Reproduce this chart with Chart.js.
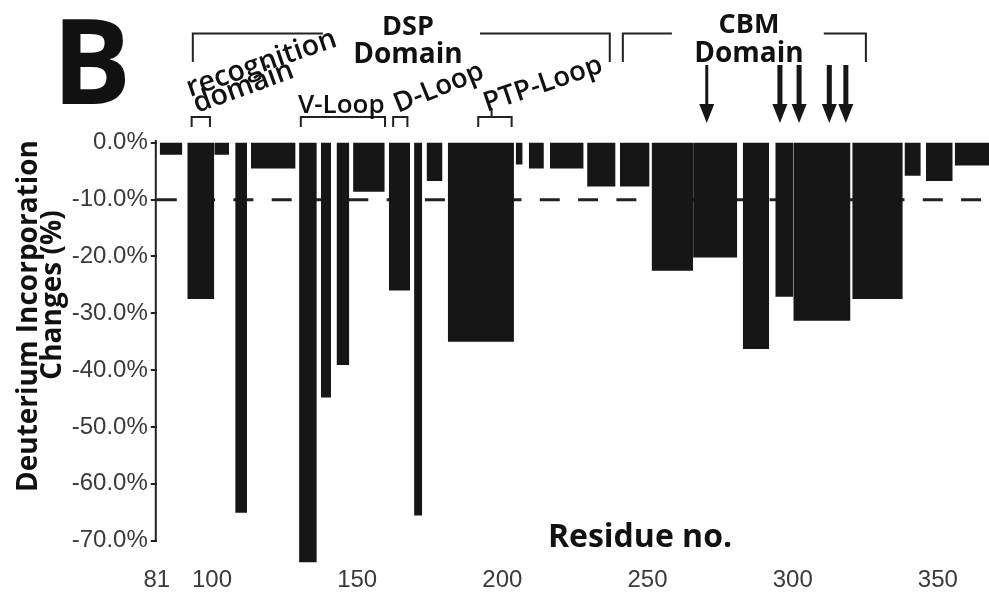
<!DOCTYPE html>
<html>
<head>
<meta charset="utf-8">
<script src="https://cdn.jsdelivr.net/npm/chart.js@4.4.1/dist/chart.umd.min.js"></script>
<style>
  html, body { margin: 0; padding: 0; background: #ffffff; }
  #c { display: block; }
</style>
</head>
<body>
<canvas id="c" width="989" height="594"></canvas>
<script>
// ---- data (residue ranges of peptides and their deuterium incorporation change, %) ----
const residueStart   = [82,   91.5,  100.8, 108,   113.4, 130,   137.5, 142.9, 148.6, 160.9, 169.6, 173.9, 181.2, 204.6, 209.1, 216.4, 229.2, 240.5, 251.4, 265.7, 282.8, 294.0, 300.2, 320.5, 338.5, 345.9, 355.8];
const residueEnd     = [89.8, 100.8, 105.9, 112.1, 128.8, 136.1, 141.0, 147.3, 159.5, 168.2, 172.4, 179.4, 204.0, 207.0, 214.3, 228.0, 239.0, 250.7, 265.7, 280.9, 291.9, 300.2, 319.9, 337.9, 344.1, 355.1, 368];
const deuteriumChange= [-2.1, -27.5, -2.1,  -65.1, -4.5,  -73.8, -44.8, -39.1, -8.6,  -26.0, -65.6, -6.7,  -35.0, -3.8,  -4.5,  -4.5,  -7.7,  -7.7,  -22.5, -20.2, -36.3, -27.1, -31.3, -27.5, -5.8,  -6.7,  -4.0];
const thresholdLevel = -10;
const yTickValues = [0, -10, -20, -30, -40, -50, -60, -70];
const xTickValues = [81, 100, 150, 200, 250, 300, 350];

// annotation anchors (residue numbers)
const domainBrackets = [
  { name: 'DSP', left: [93.4, 138.2], right: [192.3, 237.0] },
  { name: 'CBM', left: [241.5, 258.4], right: [310.7, 325.2] }
];
const loopBrackets = [
  { name: 'recognition', from: 93.0, to: 99.3 },
  { name: 'V-Loop', from: 130.6, to: 159.6 },
  { name: 'D-Loop', from: 162.4, to: 167.3 },
  { name: 'PTP-Loop', from: 191.7, to: 203.2, stem: 196.3 }
];
const arrowResidues = [270.4, 295.6, 302.2, 312.6, 318.3];

const INK = '#161616';

const barDatasets = residueStart.map((s, i) => ({
  type: 'line',
  data: [
    { x: s, y: 0 },
    { x: s, y: deuteriumChange[i] },
    { x: residueEnd[i], y: deuteriumChange[i] },
    { x: residueEnd[i], y: 0 }
  ],
  fill: 'origin',
  backgroundColor: INK,
  borderWidth: 0,
  borderColor: 'rgba(0,0,0,0)',
  pointRadius: 0,
  tension: 0,
  order: 1
}));

const thresholdDataset = {
  type: 'line',
  data: [{ x: 81, y: thresholdLevel }, { x: 368, y: thresholdLevel }],
  borderColor: '#222',
  borderWidth: 3,
  borderDash: [20, 18.3],
  pointRadius: 0,
  fill: false,
  order: 2
};

const annotations = {
  id: 'annotations',
  afterDraw(chart) {
    const ctx = chart.ctx;
    const xs = chart.scales.x;
    const ys = chart.scales.y;
    const px = r => xs.getPixelForValue(r);
    ctx.save();

    // y axis line (from top to -70%)
    ctx.strokeStyle = '#222';
    ctx.lineWidth = 2;
    ctx.beginPath();
    ctx.moveTo(chart.chartArea.left - 1, ys.getPixelForValue(0.5));
    ctx.lineTo(chart.chartArea.left - 1, ys.getPixelForValue(-70));
    ctx.stroke();

    ctx.fillStyle = '#111';
    ctx.textBaseline = 'alphabetic';

    // Panel letter
    ctx.font = 'bold 118px "Open Sans", "Liberation Sans", sans-serif';
    ctx.textAlign = 'left';
    ctx.fillText('B', 52, 104);

    // Y axis title (two lines, rotated)
    ctx.font = 'bold 28px "Open Sans", "Liberation Sans", sans-serif';
    ctx.textAlign = 'center';
    ctx.save(); ctx.translate(37, 316); ctx.rotate(-Math.PI / 2);
    ctx.fillText('Deuterium Incorporation', 0, 0); ctx.restore();
    ctx.save(); ctx.translate(61, 295); ctx.rotate(-Math.PI / 2);
    ctx.fillText('Changes (%)', 0, 0); ctx.restore();

    // X axis title
    ctx.font = 'bold 32px "Open Sans", "Liberation Sans", sans-serif';
    ctx.fillText('Residue no.', 640, 547);

    // Domain labels
    ctx.font = 'bold 27px "Open Sans", "Liberation Sans", sans-serif';
    ctx.fillText('DSP', 408, 35);
    ctx.fillText('CBM', 749, 33);
    ctx.font = 'bold 28px "Open Sans", "Liberation Sans", sans-serif';
    ctx.fillText('Domain', 408, 63);
    ctx.fillText('Domain', 749, 62);

    // Domain brackets
    ctx.strokeStyle = '#222';
    ctx.lineWidth = 2;
    const bTop = 33.5, bBot = 62;
    domainBrackets.forEach(b => {
      ctx.beginPath();
      ctx.moveTo(px(b.left[0]), bBot);
      ctx.lineTo(px(b.left[0]), bTop);
      ctx.lineTo(px(b.left[1]), bTop);
      ctx.moveTo(px(b.right[0]), bTop);
      ctx.lineTo(px(b.right[1]), bTop);
      ctx.lineTo(px(b.right[1]), bBot);
      ctx.stroke();
    });

    // Loop brackets
    const lTop = 117, lBot = 127;
    loopBrackets.forEach(b => {
      ctx.beginPath();
      ctx.moveTo(px(b.from), lBot);
      ctx.lineTo(px(b.from), lTop);
      ctx.lineTo(px(b.to), lTop);
      ctx.lineTo(px(b.to), lBot);
      if (b.stem) {
        ctx.moveTo(px(b.stem), lTop);
        ctx.lineTo(px(b.stem), 108);
      }
      ctx.stroke();
    });

    // Loop labels
    ctx.textAlign = 'left';
    const rot = (txt, x, y, deg) => {
      ctx.save(); ctx.translate(x, y); ctx.rotate(deg * Math.PI / 180);
      ctx.fillText(txt, 0, 0); ctx.restore();
    };
    ctx.font = '600 28.5px "Open Sans", "Liberation Sans", sans-serif';
    rot('recognition', 190, 97, -19);
    rot('domain', 197, 113, -20);
    ctx.font = '600 26px "Open Sans", "Liberation Sans", sans-serif';
    ctx.fillText('V-Loop', 298, 113);
    ctx.font = '600 27.5px "Open Sans", "Liberation Sans", sans-serif';
    rot('D-Loop', 398, 113, -22);
    rot('PTP-Loop', 487, 112, -19);

    // Arrows
    arrowResidues.forEach((r, i) => {
      const x = px(r);
      const shaft = i === 0 ? 3 : 5;
      ctx.fillStyle = '#161616';
      ctx.fillRect(x - shaft / 2, 65, shaft, 42);
      ctx.beginPath();
      ctx.moveTo(x - 7.5, 104);
      ctx.lineTo(x + 7.5, 104);
      ctx.lineTo(x, 123);
      ctx.closePath();
      ctx.fill();
    });

    ctx.restore();
  }
};

new Chart(document.getElementById('c'), {
  type: 'line',
  data: { datasets: [...barDatasets, thresholdDataset] },
  options: {
    responsive: false,
    animation: false,
    devicePixelRatio: 1,
    layout: { padding: { top: 140, left: 0, right: 0, bottom: 0 } },
    plugins: { legend: { display: false }, tooltip: { enabled: false } },
    elements: { line: { tension: 0 } },
    scales: {
      x: {
        type: 'linear',
        min: 81,
        max: 367.6,
        afterFit(scale) { scale.height = 30.7; },
        afterBuildTicks(scale) { scale.ticks = xTickValues.map(v => ({ value: v })); },
        grid: { display: false, drawTicks: false },
        border: { display: false },
        ticks: {
          autoSkip: false,
          maxRotation: 0,
          padding: 3,
          color: '#3a3a3a',
          font: { family: '"Liberation Sans", Arial, sans-serif', size: 24 },
          callback: v => String(v)
        }
      },
      y: {
        type: 'linear',
        min: -74,
        max: 0.5,
        afterFit(scale) { scale.width = 156.8; },
        afterBuildTicks(scale) { scale.ticks = yTickValues.map(v => ({ value: v })); },
        grid: { drawOnChartArea: false, drawTicks: true, tickLength: 6, color: '#222', lineWidth: 2 },
        border: { display: false },
        ticks: {
          padding: 3,
          color: '#3a3a3a',
          font: { family: '"Liberation Sans", Arial, sans-serif', size: 24 },
          callback: v => v.toFixed(1) + '%'
        }
      }
    }
  },
  plugins: [annotations]
});
</script>
</body>
</html>
